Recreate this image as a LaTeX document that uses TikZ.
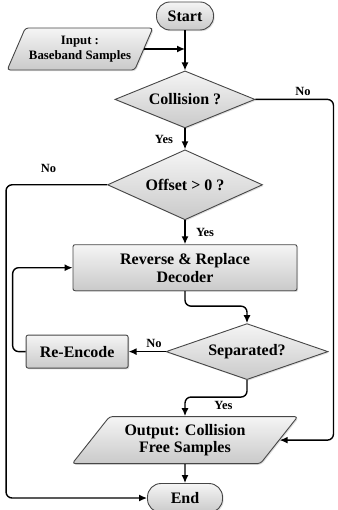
\documentclass[tikz,border=0pt]{standalone}
\usepackage{fontspec}
\setmainfont{Liberation Serif}
\usepackage{tikz}
\usetikzlibrary{positioning, calc, shapes.geometric, shadows, arrows.meta}

\begin{document}
\begin{tikzpicture}[x=1pt, y=-1pt,
                        >={Latex[length=8pt,width=7pt]},
                        basenode/.style={draw=gray!55!black, line width=0.9pt, top color=gray!8, bottom color=gray!42, drop shadow={opacity=0.25, shadow xshift=1.2pt, shadow yshift=-1.2pt}, inner sep=0pt, align=center, font=\fontsize{16}{18}\selectfont\bfseries},
                        endnode/.style={basenode, rectangle, rounded corners=13.5pt},
                        datanode/.style={basenode, trapezium, trapezium stretches=true, rounded corners=3pt},
                        asknode/.style={basenode, diamond, aspect=2.4},
                        worknode/.style={basenode, rectangle, rounded corners=2pt},
                        yesno/.style={font=\fontsize{12.5}{14}\selectfont\bfseries},
                        flow/.style={->, line width=1.4pt, rounded corners=6pt},
                        ]
        \useasboundingbox (0,0) rectangle (337,510);
        %Nodes
        \node[endnode, minimum width=57pt, minimum height=28pt]      (start)   at (185,16)               {Start};
        \node[datanode, trapezium left angle=57, trapezium right angle=123, minimum width=146pt, minimum height=42pt, font=\fontsize{12.8}{15}\selectfont\bfseries]
                                                                     (input)   at (80,49)                {Input :\\Baseband Samples};
        \node[asknode, minimum width=140pt, minimum height=57pt]     (collision) [below=40pt of start]   {Collision ?};
        \node[asknode, minimum width=155pt, minimum height=70pt]     (offset)  [below=21pt of collision] {Offset > 0 ?};
        \node[worknode, minimum width=224pt, minimum height=46pt]    (decoder) [below=24pt of offset]    {Reverse \& Replace\\Decoder};
        \node[asknode, minimum width=162pt, minimum height=56pt]     (separated) [below=32pt of decoder, xshift=62pt] {Separated?};
        \node[worknode, minimum width=102pt, minimum height=33pt]    (reencode) [left=37pt of separated] {Re-Encode};
        \node[datanode, trapezium left angle=47, trapezium right angle=133, minimum width=226pt, minimum height=47pt, font=\fontsize{16}{17.5}\selectfont\bfseries]
                                                                     (output)  [below=125pt of decoder]  {Output: Collision\\Free Samples};
        \node[endnode, minimum width=75pt, minimum height=29pt]      (end)     [below=19pt of output]    {End};

        %Lines
        \draw[flow] (start) to (collision);
        \draw[flow] (input.east) to (input.east -| start.south);
        \draw[flow] (collision) to node[yesno, left=8pt, pos=0.55] {Yes} (offset);
        \draw[flow] (collision.east) -- node[yesno, above, pos=0.61] {No} ++(78,0) |- (output.east);
        \draw[flow] (offset) to node[yesno, right=7pt, pos=0.5] {Yes} (decoder);
        \draw[flow] (offset.west) -- node[yesno, above=8pt, pos=0.58] {No} ++(-101,0) |- (end.west);
        \draw[flow] (decoder.south) -- ++(0,15) -| (separated.north);
        \draw[flow] (separated.west) to node[yesno, above, pos=0.31] {No} (reencode.east);
        \draw[flow] (reencode.west) -- ++(-13,0) |- (decoder.west);
        \draw[flow] (separated.south) -- ++(0,17) -| node[yesno, below, pos=0.19] {Yes} (output.north);
        \draw[flow] (output) to (end);
    \end{tikzpicture}
\end{document}
